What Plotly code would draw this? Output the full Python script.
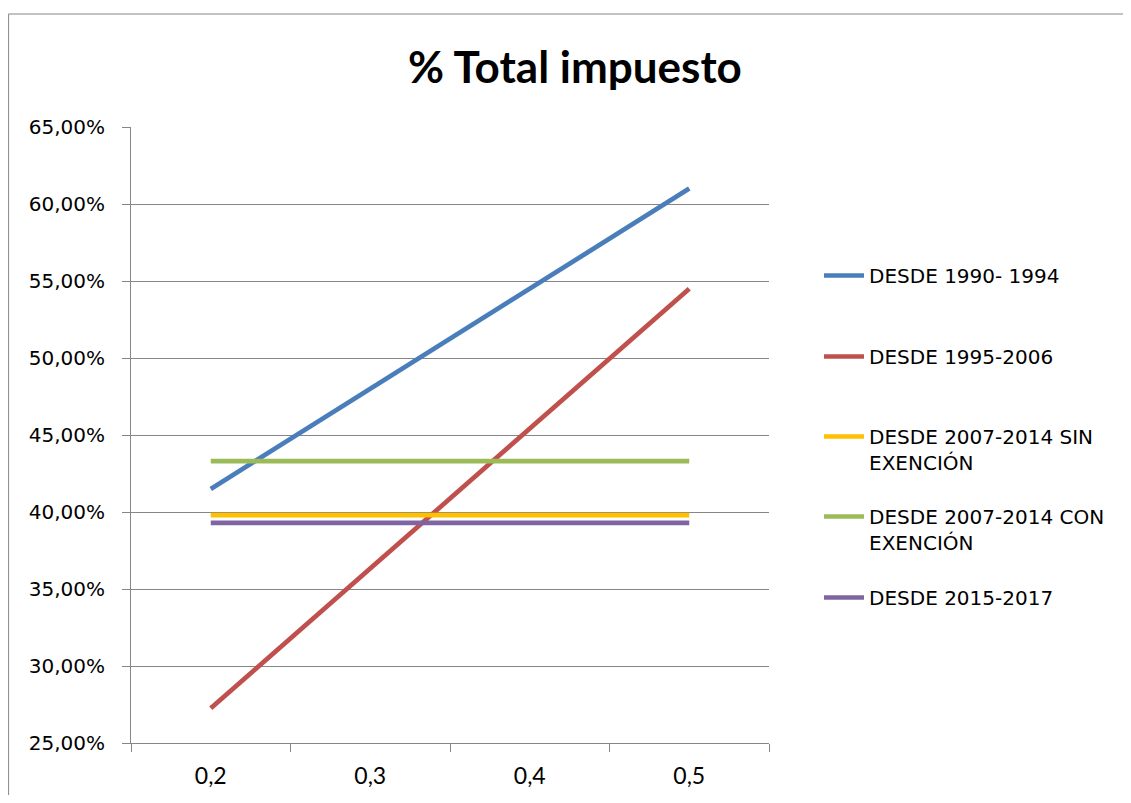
import plotly.graph_objects as go

categories = ["0,2", "0,3", "0,4", "0,5"]
s_1990_1994 = [0.415, 0.480, 0.545, 0.610]
s_1995_2006 = [0.2725, 0.363, 0.454, 0.545]
s_2007_sin = [0.398, 0.398, 0.398, 0.398]
s_2007_con = [0.433, 0.433, 0.433, 0.433]
s_2015_2017 = [0.393, 0.393, 0.393, 0.393]
series_names = [
    "DESDE 1990- 1994",
    "DESDE 1995-2006",
    "DESDE 2007-2014 SIN<br>EXENCIÓN",
    "DESDE 2007-2014 CON<br>EXENCIÓN",
    "DESDE 2015-2017",
]
y_ticks = [0.25, 0.30, 0.35, 0.40, 0.45, 0.50, 0.55, 0.60, 0.65]

colors = ["#4A7EBB", "#C0504D", "#FFC000", "#9BBB59", "#8064A2"]
series = [s_1990_1994, s_1995_2006, s_2007_sin, s_2007_con, s_2015_2017]
legend_ids = ["legend", "legend2", "legend3", "legend4", "legend5"]
legend_centers = [276, 357, 437, 517, 598]  # page pixel y of symbol

OFF = 8  # default page body margin
PW, PH = 1131, 803
W, H = PW - 2 * OFF, PH - 2 * OFF
# plot area in page pixels, converted to figure pixels
L, R, T, B = 130.5 - OFF, 769 - OFF, 127 - OFF, 743 - OFF

fig = go.Figure()
for name, vals, col, lid in zip(series_names, series, colors, legend_ids):
    fig.add_trace(go.Scatter(
        x=categories, y=vals, mode="lines", name=name,
        line=dict(color=col, width=4.7), legend=lid,
    ))

legend_font = dict(family="DejaVu Sans", size=20, color="black")
legends = {}
for lid, cy in zip(legend_ids, legend_centers):
    legends[lid] = dict(
        xref="container", yref="container",
        x=(819 - OFF) / W, y=1 - (cy - OFF - 20) / H,
        xanchor="left", yanchor="top",
        valign="top", font=legend_font, bgcolor="rgba(0,0,0,0)",
        borderwidth=0, itemwidth=40,
    )

grid_col = "#868686"
fig.update_layout(
    width=W, height=H,
    margin=dict(l=L, r=W - R, t=T, b=H - B, pad=0, autoexpand=False),
    paper_bgcolor="white", plot_bgcolor="white",
    separators=",.",
    showlegend=True,
    title=dict(
        text="<b>% Total impuesto</b>",
        xref="container", yref="container",
        x=(575 - OFF) / W, y=1 - (68 - OFF) / H,
        xanchor="center", yanchor="middle",
        font=dict(family="Lato", size=44, color="black"),
    ),
    xaxis=dict(
        type="category", range=[-0.5, 3.5], tickson="boundaries",
        ticks="outside", ticklen=8, tickcolor=grid_col, tickwidth=1,
        showline=True, linecolor=grid_col, linewidth=1,
        showgrid=False, zeroline=False, automargin=False,
        tickfont=dict(family="Lato", size=23, color="black"),
        ticklabelstandoff=12,
    ),
    yaxis=dict(
        range=[0.25, 0.65], tickvals=y_ticks, tickformat=".2%",
        ticks="outside", ticklen=8, tickcolor=grid_col, tickwidth=1,
        showline=True, linecolor=grid_col, linewidth=1,
        showgrid=True, gridcolor=grid_col, gridwidth=1, zeroline=False,
        automargin=False,
        tickfont=dict(family="DejaVu Sans", size=20, color="black"),
        ticklabelstandoff=13,
    ),
    shapes=[dict(
        type="rect", xref="paper", yref="paper",
        x0=(8 - OFF - L) / (R - L), x1=(1160 - OFF - L) / (R - L),
        y0=(B - (830 - OFF)) / (B - T), y1=(B - (14 - OFF)) / (B - T),
        line=dict(color=grid_col, width=1), fillcolor="rgba(0,0,0,0)",
        layer="below",
    )],
    **legends,
)

fig.write_html("out.html")
